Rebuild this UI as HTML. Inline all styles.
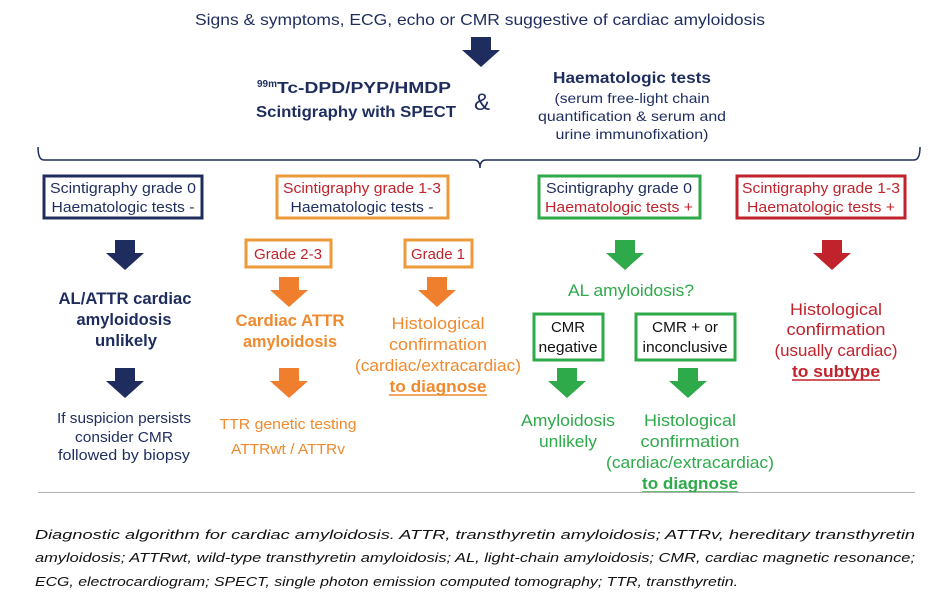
<!DOCTYPE html>
<html><head><meta charset="utf-8"><style>
html,body{margin:0;padding:0;background:#fff;}
svg{display:block;}
text{font-family:"Liberation Sans Narrow","Liberation Sans",sans-serif;}
.c{text-anchor:middle;}
.n{fill:#1f2d5e}.o{fill:#ef8a2e}.g{fill:#2eaa4a}.r{fill:#c0232c}
.cap{font-family:"Liberation Sans","DejaVu Sans",sans-serif;font-style:italic;font-size:13px;fill:#111;}
</style></head><body>
<svg width="947" height="606" viewBox="0 0 947 606" xmlns="http://www.w3.org/2000/svg">
<defs>
<polygon id="ar" points="-10,0 10,0 10,13 19,13 0,30 -19,13 -10,13"/>
</defs>
<text x="480" y="25" class="c n" font-size="16" textLength="570" lengthAdjust="spacingAndGlyphs">Signs &amp; symptoms, ECG, echo or CMR suggestive of cardiac amyloidosis</text>
<use href="#ar" x="481" y="37" fill="#1f2d5e"/>
<text x="257" y="93" class="n" font-size="16" font-weight="bold"><tspan font-size="10" dy="-6">99m</tspan><tspan dy="6" textLength="174" lengthAdjust="spacingAndGlyphs">Tc-DPD/PYP/HMDP</tspan></text>
<text x="356" y="117" class="c n" font-size="16" font-weight="bold" textLength="200" lengthAdjust="spacingAndGlyphs">Scintigraphy with SPECT</text>
<text x="482" y="110" class="c n" font-size="24">&amp;</text>
<text x="632" y="83" class="c n" font-size="16" font-weight="bold" textLength="158" lengthAdjust="spacingAndGlyphs">Haematologic tests</text>
<text x="632" y="103" class="c n" font-size="14" textLength="155" lengthAdjust="spacingAndGlyphs">(serum free-light chain</text>
<text x="632" y="121" class="c n" font-size="14" textLength="188" lengthAdjust="spacingAndGlyphs">quantification &amp; serum and</text>
<text x="632" y="139" class="c n" font-size="14" textLength="153" lengthAdjust="spacingAndGlyphs">urine immunofixation)</text>
<path d="M38,147 Q38,160 44,160 L474,160 Q480,160 480,168 Q480,160 486,160 L914,160 Q920,160 920,147" fill="none" stroke="#1f2d5e" stroke-width="1.5"/>
<rect x="44" y="176" width="158" height="42" fill="none" stroke="#1f2d5e" stroke-width="3"/>
<text x="123" y="193" class="c n" font-size="15" textLength="146" lengthAdjust="spacingAndGlyphs">Scintigraphy grade 0</text>
<text x="123" y="212" class="c n" font-size="15" textLength="143" lengthAdjust="spacingAndGlyphs">Haematologic tests -</text>
<rect x="277" y="176" width="171" height="42" fill="none" stroke="#ec9a3a" stroke-width="3"/>
<text x="362" y="193" class="c r" font-size="15" textLength="158" lengthAdjust="spacingAndGlyphs">Scintigraphy grade 1-3</text>
<text x="362" y="212" class="c n" font-size="15" textLength="143" lengthAdjust="spacingAndGlyphs">Haematologic tests -</text>
<rect x="539" y="176" width="161" height="42" fill="none" stroke="#2eaa4a" stroke-width="3"/>
<text x="619" y="193" class="c n" font-size="15" textLength="146" lengthAdjust="spacingAndGlyphs">Scintigraphy grade 0</text>
<text x="619" y="212" class="c r" font-size="15" textLength="148" lengthAdjust="spacingAndGlyphs">Haematologic tests +</text>
<rect x="737" y="176" width="168" height="42" fill="none" stroke="#c0232c" stroke-width="3"/>
<text x="821" y="193" class="c r" font-size="15" textLength="158" lengthAdjust="spacingAndGlyphs">Scintigraphy grade 1-3</text>
<text x="821" y="212" class="c r" font-size="15" textLength="148" lengthAdjust="spacingAndGlyphs">Haematologic tests +</text>
<use href="#ar" x="125" y="240" fill="#1f2d5e"/>
<use href="#ar" x="625" y="240" fill="#2eaa4a"/>
<use href="#ar" x="832" y="240" fill="#c0232c"/>
<rect x="246" y="240" width="85" height="27" fill="none" stroke="#ec9a3a" stroke-width="3"/>
<text x="288" y="259" class="c r" font-size="15" textLength="68" lengthAdjust="spacingAndGlyphs">Grade 2-3</text>
<rect x="405" y="240" width="67" height="27" fill="none" stroke="#ec9a3a" stroke-width="3"/>
<text x="438" y="259" class="c r" font-size="15" textLength="54" lengthAdjust="spacingAndGlyphs">Grade 1</text>
<use href="#ar" x="289" y="277" fill="#ef7f2d"/>
<use href="#ar" x="437" y="277" fill="#ef7f2d"/>
<text x="125" y="304" class="c n" font-size="17" font-weight="bold" textLength="133" lengthAdjust="spacingAndGlyphs">AL/ATTR cardiac</text>
<text x="124" y="325" class="c n" font-size="17" font-weight="bold" textLength="95" lengthAdjust="spacingAndGlyphs">amyloidosis</text>
<text x="126" y="346" class="c n" font-size="17" font-weight="bold" textLength="62" lengthAdjust="spacingAndGlyphs">unlikely</text>
<use href="#ar" x="125" y="368" fill="#1f2d5e"/>
<text x="124" y="423" class="c n" font-size="15" textLength="134" lengthAdjust="spacingAndGlyphs">If suspicion persists</text>
<text x="124" y="442" class="c n" font-size="15" textLength="98" lengthAdjust="spacingAndGlyphs">consider CMR</text>
<text x="124" y="460" class="c n" font-size="15" textLength="132" lengthAdjust="spacingAndGlyphs">followed by biopsy</text>
<text x="290" y="326" class="c o" font-size="17" font-weight="bold" textLength="109" lengthAdjust="spacingAndGlyphs">Cardiac ATTR</text>
<text x="290" y="347" class="c o" font-size="17" font-weight="bold" textLength="94" lengthAdjust="spacingAndGlyphs">amyloidosis</text>
<use href="#ar" x="289" y="368" fill="#ef7f2d"/>
<text x="288" y="429" class="c o" font-size="15" textLength="137" lengthAdjust="spacingAndGlyphs">TTR genetic testing</text>
<text x="288" y="454" class="c o" font-size="15" textLength="114" lengthAdjust="spacingAndGlyphs">ATTRwt / ATTRv</text>
<text x="438" y="329" class="c o" font-size="17" textLength="93" lengthAdjust="spacingAndGlyphs">Histological</text>
<text x="438" y="350" class="c o" font-size="17" textLength="98" lengthAdjust="spacingAndGlyphs">confirmation</text>
<text x="438" y="371" class="c o" font-size="17" textLength="166" lengthAdjust="spacingAndGlyphs">(cardiac/extracardiac)</text>
<text x="438" y="392" class="c o" font-size="17" font-weight="bold" textLength="97" lengthAdjust="spacingAndGlyphs">to diagnose</text>
<line x1="389" y1="395" x2="487" y2="395" stroke="#ef8a2e" stroke-width="1.5"/>
<text x="631" y="296" class="c g" font-size="17" textLength="126" lengthAdjust="spacingAndGlyphs">AL amyloidosis?</text>
<rect x="534" y="314" width="69" height="46" fill="none" stroke="#2eaa4a" stroke-width="3"/>
<text x="568" y="332" class="c" fill="#111" font-size="15" textLength="34" lengthAdjust="spacingAndGlyphs">CMR</text>
<text x="568" y="352" class="c" fill="#111" font-size="15" textLength="59" lengthAdjust="spacingAndGlyphs">negative</text>
<rect x="636" y="314" width="99" height="46" fill="none" stroke="#2eaa4a" stroke-width="3"/>
<text x="685" y="332" class="c" fill="#111" font-size="15" textLength="66" lengthAdjust="spacingAndGlyphs">CMR + or</text>
<text x="685" y="352" class="c" fill="#111" font-size="15" textLength="85" lengthAdjust="spacingAndGlyphs">inconclusive</text>
<use href="#ar" x="567" y="368" fill="#2eaa4a"/>
<use href="#ar" x="688" y="368" fill="#2eaa4a"/>
<text x="568" y="426" class="c g" font-size="17" textLength="94" lengthAdjust="spacingAndGlyphs">Amyloidosis</text>
<text x="568" y="447" class="c g" font-size="17" textLength="58" lengthAdjust="spacingAndGlyphs">unlikely</text>
<text x="690" y="426" class="c g" font-size="17" textLength="92" lengthAdjust="spacingAndGlyphs">Histological</text>
<text x="690" y="447" class="c g" font-size="17" textLength="99" lengthAdjust="spacingAndGlyphs">confirmation</text>
<text x="690" y="468" class="c g" font-size="17" textLength="168" lengthAdjust="spacingAndGlyphs">(cardiac/extracardiac)</text>
<text x="690" y="489" class="c g" font-size="17" font-weight="bold" textLength="96" lengthAdjust="spacingAndGlyphs">to diagnose</text>
<line x1="642" y1="492" x2="738" y2="492" stroke="#2eaa4a" stroke-width="1.5"/>
<text x="836" y="315" class="c r" font-size="17" textLength="92" lengthAdjust="spacingAndGlyphs">Histological</text>
<text x="836" y="335" class="c r" font-size="17" textLength="99" lengthAdjust="spacingAndGlyphs">confirmation</text>
<text x="836" y="356" class="c r" font-size="17" textLength="123" lengthAdjust="spacingAndGlyphs">(usually cardiac)</text>
<text x="836" y="377" class="c r" font-size="17" font-weight="bold" textLength="88" lengthAdjust="spacingAndGlyphs">to subtype</text>
<line x1="792" y1="380" x2="880" y2="380" stroke="#c0232c" stroke-width="1.5"/>
<line x1="38" y1="492.5" x2="915" y2="492.5" stroke="#b0b0b0" stroke-width="1"/>
<text x="35" y="539" class="cap" textLength="880" lengthAdjust="spacingAndGlyphs">Diagnostic algorithm for cardiac amyloidosis. ATTR, transthyretin amyloidosis; ATTRv, hereditary transthyretin</text>
<text x="35" y="562" class="cap" textLength="880" lengthAdjust="spacingAndGlyphs">amyloidosis; ATTRwt, wild-type transthyretin amyloidosis; AL, light-chain amyloidosis; CMR, cardiac magnetic resonance;</text>
<text x="35" y="586" class="cap" textLength="703" lengthAdjust="spacingAndGlyphs">ECG, electrocardiogram; SPECT, single photon emission computed tomography; TTR, transthyretin.</text>
</svg>
</body></html>
